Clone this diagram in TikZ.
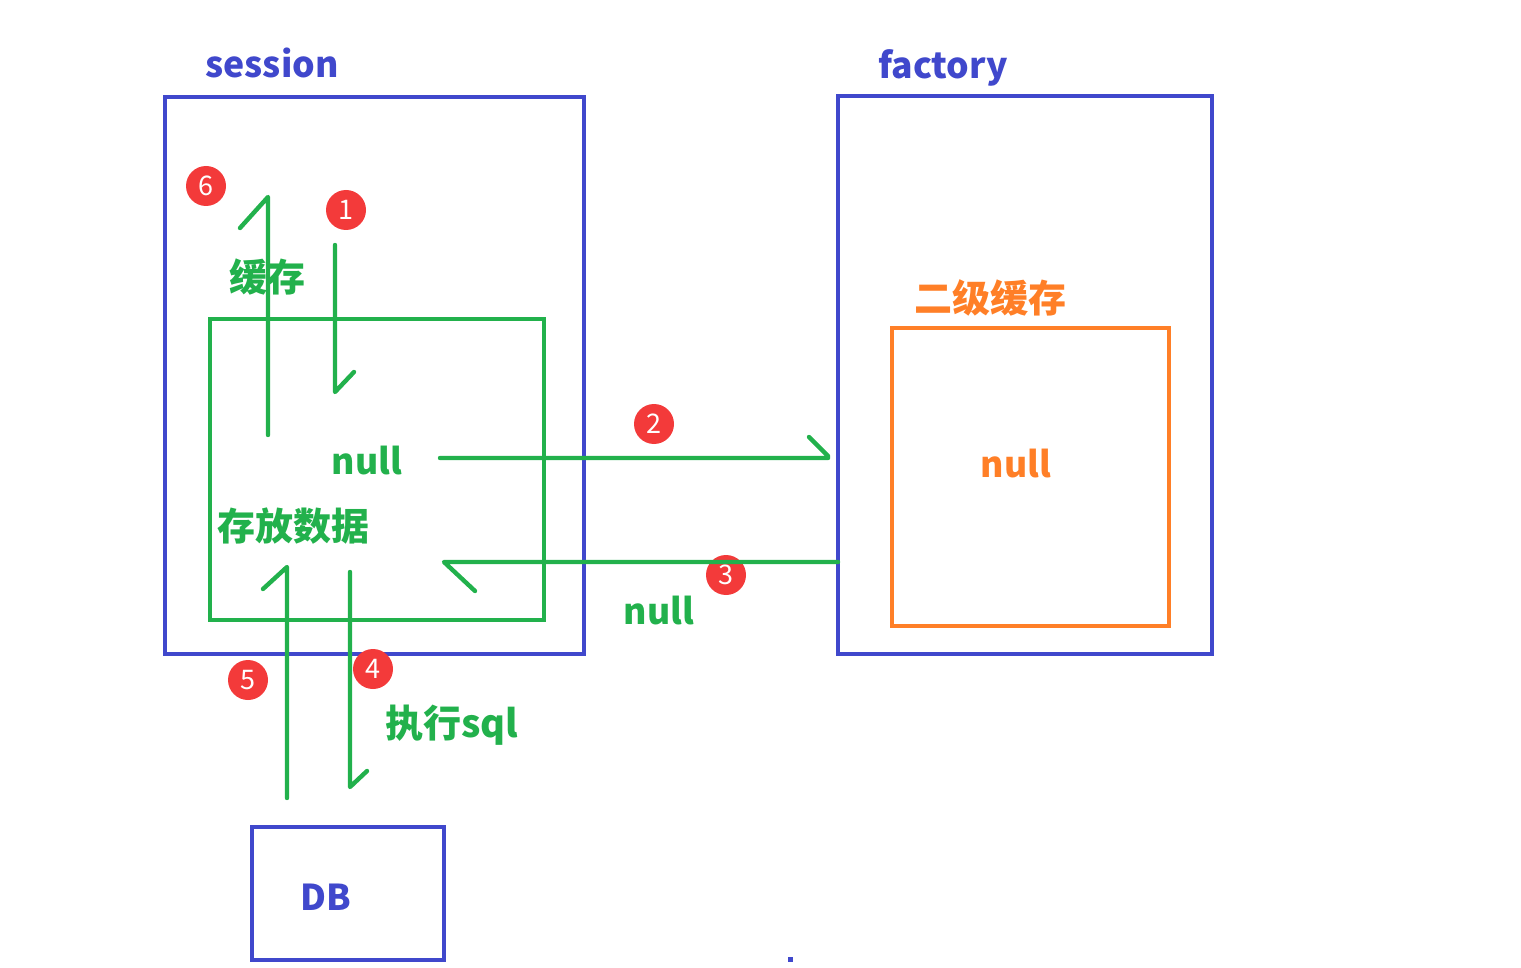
\documentclass[tikz,border=0pt]{standalone}
\usepackage{fontspec}
\setmainfont{Noto Sans CJK SC}
\definecolor{cblue}{RGB}{64,72,204}
\definecolor{cgreen}{RGB}{34,177,76}
\definecolor{corange}{RGB}{255,127,39}
\definecolor{cred}{RGB}{243,58,58}
\tikzset{
  bluebox/.style={draw=cblue,line width=2pt},
  greenbox/.style={draw=cgreen,line width=2pt},
  orangebox/.style={draw=corange,line width=2pt},
  flow/.style={draw=cgreen,line width=2.2pt,line cap=round,line join=round},
  lbl/.style={font=\bfseries\fontsize{19}{22}\selectfont,inner sep=0pt},
  lat/.style={font=\bfseries\fontsize{17.8}{22}\selectfont,inner sep=0pt},
  badge/.style={circle,fill=cred,minimum size=20pt,inner sep=0pt,text=white,font=\fontsize{13.5}{15}\selectfont},
}
\begin{document}
\begin{tikzpicture}[x=0.5pt,y=-0.5pt]
\useasboundingbox (0,0) rectangle (1521,968);
% boxes
\node[bluebox,minimum width=209.5pt,minimum height=278.5pt,inner sep=0pt] (session) at (374.5,375.5) {};
\node[bluebox,minimum width=187pt,minimum height=279pt,inner sep=0pt] (factory) at (1025,375) {};
\node[greenbox,minimum width=167pt,minimum height=150.5pt,inner sep=0pt] (cache1) at (377,469.5) {};
\node[orangebox,minimum width=138.5pt,minimum height=149pt,inner sep=0pt] (cache2) at (1030.5,477) {};
\node[bluebox,minimum width=96pt,minimum height=66.5pt,inner sep=0pt] (db) at (348,893.5) {};
\fill[cblue] (788,957) rectangle (793,962);
% labels
\node[lat,text=cblue] (lsession) at (272,63) {session};
\node[lat,text=cblue] (lfactory) at (943,68) {factory};
\node[lbl,text=corange] (l2cache) at (990,298) {二级缓存};
\node[lat,text=corange] (lnull2) at (1016,464) {null};
\node[lat,text=cgreen] (lnull1) at (367,461) {null};
\node[lbl,text=cgreen] (lstore) at (293,526) {存放数据};
\node[lbl,text=cgreen] (lcache) at (267,277) {缓存};
\node[lbl,text=cgreen] (lsql) at (452,725) {执行sql};
\node[lat,text=cgreen] (lnull3) at (659,611) {null};
\node[lat,text=cblue] (ldb) at (326,897) {DB};
% badges
\node[badge] (b6) at (206,186) {6};
\node[badge] (b1) at (346,210) {1};
\node[badge] (b2) at (654,424) {2};
\node[badge] (b3) at (726,575) {3};
\node[badge] (b4) at (373,669) {4};
\node[badge] (b5) at (248,680) {5};
% arrow coordinates
\coordinate (a6s) at (268,435); \coordinate (a6e) at (268,197); \coordinate (a6b) at (240,228);
\coordinate (a1s) at (335,245); \coordinate (a1e) at (335,392); \coordinate (a1b) at (354,372);
\coordinate (a2s) at (440,458); \coordinate (a2e) at (828,456); \coordinate (a2b) at (809,437);
\coordinate (a3s) at (838,562); \coordinate (a3e) at (444,562); \coordinate (a3b) at (475,591);
\coordinate (a5s) at (287,798); \coordinate (a5e) at (287,567); \coordinate (a5b) at (263,589);
\coordinate (a4s) at (350,572); \coordinate (a4e) at (350,787); \coordinate (a4b) at (367,771);
% arrows
\draw[flow] (a6s) -- (a6e) -- (a6b);
\draw[flow] (a1s) -- (a1e) -- (a1b);
\draw[flow] (a2s) -- (a2s -| a2e) -- (a2e) -- (a2b);
\draw[flow] (a3s) -- (a3e) -- (a3b);
\draw[flow] (a5s) -- (a5e) -- (a5b);
\draw[flow] (a4s) -- (a4e) -- (a4b);
\end{tikzpicture}
\end{document}
